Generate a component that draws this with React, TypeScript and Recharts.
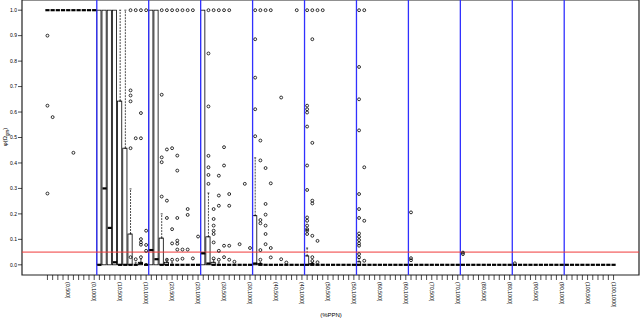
import {
	Bar,
	ComposedChart,
	ErrorBar,
	ReferenceArea,
	ReferenceLine,
	Scatter,
	XAxis,
	YAxis,
} from 'recharts'

const FONT = '"Liberation Sans", Arial, sans-serif'

// groups of %PPN, each split by size cap
const groupStarts = [0, 10, 20, 30, 40, 50, 60, 70, 80, 90, 100]
const sizeCaps = [100, 200, 300, 400, 500, 600, 700, 800, 900, 1000]
const categories = groupStarts.flatMap((g) => sizeCaps.map((c) => `(${g},${c}]`))

const groupBreaks = [9.5, 19.5, 29.5, 39.5, 49.5, 59.5, 69.5, 79.5, 89.5, 99.5]
const yTicks = [0, 0.1, 0.2, 0.3, 0.4, 0.5, 0.6, 0.7, 0.8, 0.9, 1]
const cutoff = 0.05

const medians = [
	1, 1, 1, 1, 1, 1, 1, 1, 1, 1,
	0, 0.3, 0.145, 0.01, 0, 0, 0, 0, 0.005, 0,
	0.058, 0.022, 0, 0, 0, 0, 0, 0, 0, 0,
	0.045, 0.005, 0, 0, 0, 0, 0, 0, 0, 0,
	0.005, 0, 0, 0, 0, 0, 0, 0, 0, 0,
	0, 0, 0, 0, 0, 0, 0, 0, 0, 0,
	0, 0, 0, 0, 0, 0, 0, 0, 0, 0,
	0, 0, 0, 0, 0, 0, 0, 0, 0, 0,
	0, 0, 0, 0, 0, 0, 0, 0, 0, 0,
	0, 0, 0, 0, 0, 0, 0, 0, 0, 0,
	0, 0, 0, 0, 0, 0, 0, 0, 0, 0,
]

const boxBottoms = [
	1, 1, 1, 1, 1, 1, 1, 1, 1, 1,
	0, 0, 0, 0, 0, 0, 0, 0, 0, 0,
	0, 0, 0, 0, 0, 0, 0, 0, 0, 0,
	0, 0, 0, 0, 0, 0, 0, 0, 0, 0,
	0, 0, 0, 0, 0, 0, 0, 0, 0, 0,
	0, 0, 0, 0, 0, 0, 0, 0, 0, 0,
	0, 0, 0, 0, 0, 0, 0, 0, 0, 0,
	0, 0, 0, 0, 0, 0, 0, 0, 0, 0,
	0, 0, 0, 0, 0, 0, 0, 0, 0, 0,
	0, 0, 0, 0, 0, 0, 0, 0, 0, 0,
	0, 0, 0, 0, 0, 0, 0, 0, 0, 0,
]

const boxTops = [
	1, 1, 1, 1, 1, 1, 1, 1, 1, 1,
	1, 1, 1, 1, 0.643, 0.458, 0.121, 0, 0.01, 0,
	1, 1, 0.105, 0.01, 0, 0, 0, 0, 0, 0,
	1, 0.11, 0.01, 0, 0, 0, 0, 0, 0, 0,
	0.193, 0.005, 0, 0, 0, 0, 0, 0, 0, 0,
	0.035, 0.005, 0, 0, 0, 0, 0, 0, 0, 0,
	0.012, 0, 0, 0, 0, 0, 0, 0, 0, 0,
	0, 0, 0, 0, 0, 0, 0, 0, 0, 0,
	0, 0, 0, 0, 0, 0, 0, 0, 0, 0,
	0, 0, 0, 0, 0, 0, 0, 0, 0, 0,
	0, 0, 0, 0, 0, 0, 0, 0, 0, 0,
]

const whiskerTops = [
	1, 1, 1, 1, 1, 1, 1, 1, 1, 1,
	1, 1, 1, 1, 1, 1, 0.298, 0.01, 0.02, 0.005,
	1, 1, 0.2, 0.02, 0.01, 0, 0, 0, 0, 0,
	1, 0.282, 0.02, 0.01, 0, 0, 0, 0, 0, 0,
	0.42, 0.01, 0, 0, 0, 0, 0, 0, 0, 0,
	0.066, 0.01, 0, 0, 0, 0, 0, 0, 0, 0,
	0.025, 0, 0, 0, 0, 0, 0, 0, 0, 0,
	0, 0, 0, 0, 0, 0, 0, 0, 0, 0,
	0, 0, 0, 0, 0, 0, 0, 0, 0, 0,
	0, 0, 0, 0, 0, 0, 0, 0, 0, 0,
	0, 0, 0, 0, 0, 0, 0, 0, 0, 0,
]

// [category index, value]
const outliers: [number, number][] = [
	[0, 0.9], [0, 0.625], [0, 0.28], [1, 0.58], [5, 0.44],
	[16, 1], [17, 1], [18, 1], [19, 1], [16, 0.685], [16, 0.665], [16, 0.642],
	[18, 0.596], [17, 0.497], [18, 0.497], [16, 0.458], [19, 0.134], [18, 0.101],
	[18, 0.088], [18, 0.079], [19, 0.078], [19, 0.055], [17, 0.022], [18, 0.03], [16, 0.03],
	[22, 1], [23, 1], [24, 1], [25, 1], [26, 1], [27, 1], [28, 1], [22, 0.668],
	[22, 0.422], [23, 0.453], [24, 0.458], [25, 0.429], [22, 0.403], [25, 0.37],
	[22, 0.268], [23, 0.252], [27, 0.219], [27, 0.196], [23, 0.184], [25, 0.184],
	[24, 0.14], [29, 0.111], [25, 0.095], [24, 0.084], [25, 0.083], [25, 0.06],
	[26, 0.06], [27, 0.06], [23, 0.02], [24, 0.02], [25, 0.02], [26, 0.024], [28, 0.025],
	[31, 1], [32, 1], [33, 1], [34, 1], [35, 1], [31, 0.83], [31, 0.622], [34, 0.462],
	[31, 0.428], [31, 0.383], [34, 0.39], [31, 0.353], [33, 0.35], [31, 0.318],
	[38, 0.318], [33, 0.272], [35, 0.278], [33, 0.232], [35, 0.232], [32, 0.219],
	[32, 0.18], [32, 0.154], [32, 0.134], [32, 0.121], [32, 0.088], [37, 0.081],
	[34, 0.075], [35, 0.075], [39, 0.066], [33, 0.055], [32, 0.025], [33, 0.02],
	[34, 0.03], [35, 0.02], [36, 0.012],
	[40, 1], [41, 1], [42, 1], [43, 1], [48, 1], [40, 0.886], [40, 0.735], [45, 0.657],
	[40, 0.611], [40, 0.505], [41, 0.488], [41, 0.41], [42, 0.38], [43, 0.32],
	[42, 0.239], [42, 0.197], [41, 0.176], [41, 0.163], [42, 0.154], [42, 0.121],
	[42, 0.081], [43, 0.066], [41, 0.058], [43, 0.029], [41, 0.02], [45, 0.022], [46, 0.009],
	[50, 1], [51, 1], [52, 1], [53, 1], [51, 0.886], [50, 0.625], [50, 0.611], [50, 0.598],
	[50, 0.543], [51, 0.479], [50, 0.39], [50, 0.294], [51, 0.252], [51, 0.241],
	[50, 0.186], [50, 0.173], [50, 0.154], [50, 0.14], [50, 0.134], [50, 0.121],
	[51, 0.114], [52, 0.094], [51, 0.03], [51, 0.015], [52, 0.01],
	[60, 1], [61, 1], [60, 0.777], [60, 0.65], [60, 0.528], [61, 0.383], [60, 0.278],
	[60, 0.219], [60, 0.184], [61, 0.173], [60, 0.123], [60, 0.11], [60, 0.097],
	[60, 0.084], [60, 0.075], [60, 0.042], [60, 0.029], [61, 0.016],
	[70, 0.206], [70, 0.026], [70, 0.018],
	[80, 0.048], [80, 0.042],
	[90, 0.006],
]

const rows = categories.map((name, i) => ({
	i,
	name,
	box: [boxBottoms[i], boxTops[i]],
	med: medians[i],
	q3: boxTops[i],
	whisker: [0, whiskerTops[i] - boxTops[i]],
}))
const whiskerRows = rows.filter((r) => whiskerTops[r.i] > boxTops[r.i])
const outlierPoints = outliers.map(([i, v]) => ({ i, v }))
const xTicks = categories.map((_, i) => i)

function XTick({ x, y, payload }: any) {
	const i = payload.value
	if (i % 5 !== 4) return <g />
	return (
		<text
			x={x}
			y={y}
			dy='0.35em'
			transform={`rotate(90, ${x}, ${y})`}
			fontSize={5.3}
			fontFamily={FONT}
			fill='#000'
			textAnchor='start'
		>
			{categories[i]}
		</text>
	)
}

function BoxShape({ x, y, width, height }: any) {
	if (!height || Math.abs(height) < 0.5) return <g />
	return (
		<rect
			x={x}
			y={Math.min(y, y + height)}
			width={width}
			height={Math.abs(height)}
			fill='none'
			stroke='#000'
			strokeWidth={0.8}
		/>
	)
}

function MedianShape({ cx, cy }: any) {
	return <line x1={cx - 2.1} x2={cx + 2.1} y1={cy} y2={cy} stroke='#000' strokeWidth={2.2} />
}

function OutlierShape({ cx, cy }: any) {
	return <circle cx={cx} cy={cy} r={1.45} fill='none' stroke='#000' strokeWidth={0.8} />
}

export default function App() {
	return (
		<div style={{ position: 'absolute', left: 0, top: 0, background: '#fff' }}>
			<ComposedChart
				width={640}
				height={320}
				data={rows}
				margin={{ top: 0, right: 1, bottom: 0, left: 0 }}
				style={{ fontFamily: FONT }}
			>
				<XAxis
					type='number'
					dataKey='i'
					domain={[-4.9, 113.9]}
					allowDataOverflow
					ticks={xTicks}
					interval={0}
					height={45}
					tickSize={5}
					axisLine={false}
					tickLine={{ stroke: '#000', strokeWidth: 0.7 }}
					tick={<XTick />}
					label={() => (
						<text x={331} y={317} fontSize={6} fontFamily={FONT} textAnchor='middle' fill='#000'>
							(%PPN)
						</text>
					)}
				/>
				<YAxis
					type='number'
					domain={[-0.04, 1.04]}
					allowDataOverflow
					ticks={yTicks}
					interval={0}
					width={22}
					tickSize={4}
					tickMargin={1}
					axisLine={false}
					tickLine={{ stroke: '#000', strokeWidth: 0.7 }}
					tick={{ fontSize: 5, fill: '#000' }}
					tickFormatter={(v: number) => v.toFixed(1)}
					label={() => (
						<text
							transform='rotate(-90, 7, 137)'
							x={7}
							y={137}
							fontSize={6}
							fontFamily={FONT}
							textAnchor='middle'
							fill='#000'
						>
							φ(Ω<tspan fontSize={4.5} dy={1.5}>gm</tspan><tspan dy={-1.5}>)</tspan>
						</text>
					)}
				/>
				<ReferenceArea
					x1={-4.9}
					x2={113.9}
					y1={-0.04}
					y2={1.04}
					fill='none'
					fillOpacity={0}
					stroke='#222'
					strokeWidth={1.2}
					ifOverflow='visible'
				/>
				<Bar dataKey='box' barSize={4.2} shape={<BoxShape />} isAnimationActive={false} />
				<Scatter data={whiskerRows} dataKey='q3' shape={() => <g />} isAnimationActive={false}>
					<ErrorBar
						dataKey='whisker'
						direction='y'
						width={1}
						stroke='#000'
						strokeWidth={0.7}
						strokeDasharray='2 1'
						isAnimationActive={false}
					/>
				</Scatter>
				<Scatter data={rows} dataKey='med' shape={<MedianShape />} isAnimationActive={false} />
				<Scatter data={outlierPoints} dataKey='v' shape={<OutlierShape />} isAnimationActive={false} />
				{groupBreaks.map((b) => (
					<ReferenceLine key={b} x={b} stroke='#3030ff' strokeWidth={1.3} ifOverflow='visible' />
				))}
				<ReferenceLine y={cutoff} stroke='#f03a3a' strokeWidth={1} ifOverflow='visible' />
			</ComposedChart>
		</div>
	)
}
